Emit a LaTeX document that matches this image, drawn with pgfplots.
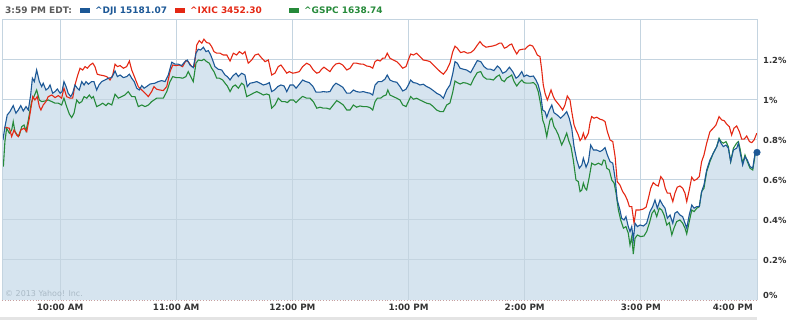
\documentclass[border=0pt]{standalone}
\usepackage{pgfplots}
\pgfplotsset{compat=1.18}
\usepackage{pgfplotstable}
\usepackage{fontspec}
\setmainfont{DejaVu Sans}
\definecolor{fillc}{RGB}{214,228,239}
\definecolor{gridc}{RGB}{196,212,224}
\definecolor{djiblue}{RGB}{28,88,150}
\definecolor{ixicred}{RGB}{228,40,20}
\definecolor{gspcgreen}{RGB}{38,138,58}
\definecolor{labelc}{RGB}{51,51,51}
\definecolor{graylab}{RGB}{90,90,90}
\definecolor{copyc}{RGB}{170,186,198}
\definecolor{bandc}{RGB}{228,228,228}
\definecolor{dotc}{RGB}{200,160,160}

\pgfplotstableread{
t v
0.5 0.80
1.4 0.86
2.7 0.925
4.1 0.942
5.8 0.972
7.2 0.934
8.4 0.95
9.7 0.972
11.0 0.945
12.4 0.967
13.6 0.95
14.8 1.025
15.7 1.109
16.7 1.092
17.9 1.15
19.3 1.092
20.5 1.067
21.3 1.084
22.7 1.05
23.9 1.059
24.8 1.075
26.2 1.034
27.4 1.042
28.6 1.055
30.0 1.034
31.0 1.042
32.0 1.092
33.1 1.067
34.2 1.034
35.5 1.017
36.5 1.034
37.7 1.075
38.9 1.059
39.9 1.05
41.2 1.092
42.4 1.075
43.4 1.092
44.6 1.079
46.3 1.092
47.5 1.092
48.9 1.05
50.1 1.075
51.5 1.092
53.2 1.10
54.9 1.109
56.7 1.112
58.4 1.145
59.6 1.117
61.0 1.125
62.7 1.112
64.4 1.117
65.8 1.129
67.0 1.109
68.3 1.092
69.6 1.059
70.9 1.05
72.2 1.072
73.4 1.059
74.7 1.067
76.5 1.08
79.0 1.084
80.7 1.092
82.5 1.097
84.2 1.092
85.9 1.125
87.7 1.189
89.4 1.179
91.1 1.179
92.8 1.172
94.5 1.192
95.7 1.20
97.1 1.175
98.8 1.162
100.2 1.234
101.4 1.254
102.6 1.25
104.0 1.264
105.4 1.242
106.6 1.247
107.8 1.225
108.8 1.20
110.0 1.167
111.7 1.154
113.5 1.15
115.2 1.125
116.4 1.117
117.8 1.10
119.2 1.12
120.9 1.134
122.1 1.117
123.8 1.134
125.5 1.125
126.7 1.067
128.1 1.084
129.8 1.087
131.6 1.092
133.3 1.084
135.0 1.075
136.7 1.08
138.1 1.087
139.3 1.042
140.7 1.05
142.4 1.067
144.1 1.075
145.7 1.07
147.1 1.042
148.8 1.075
150.5 1.075
151.9 1.059
153.6 1.079
155.3 1.10
157.0 1.092
158.7 1.087
160.5 1.07
162.2 1.039
164.3 1.039
166.0 1.042
167.7 1.04
169.4 1.042
171.1 1.07
172.5 1.084
174.2 1.075
176.0 1.064
178.1 1.034
179.8 1.034
181.5 1.05
183.2 1.042
184.9 1.039
186.6 1.042
188.4 1.037
190.1 1.034
191.5 1.025
192.7 1.075
194.4 1.092
196.1 1.092
197.8 1.104
199.0 1.125
200.4 1.10
202.1 1.092
203.9 1.089
205.6 1.067
207.0 1.045
208.7 1.054
209.9 1.075
211.1 1.10
212.5 1.087
214.2 1.084
215.9 1.075
217.6 1.079
219.4 1.067
221.1 1.059
222.8 1.047
224.5 1.034
226.3 1.025
228.0 1.009
229.7 1.05
231.4 1.075
232.8 1.13
234.0 1.192
235.2 1.184
236.6 1.159
238.3 1.154
240.0 1.15
242.1 1.137
243.8 1.167
245.5 1.197
247.3 1.192
249.0 1.167
250.7 1.154
252.4 1.154
254.1 1.147
255.9 1.17
257.2 1.159
258.6 1.134
260.3 1.142
262.1 1.164
263.8 1.142
265.5 1.109
266.7 1.117
268.5 1.142
269.6 1.117
271.0 1.125
272.7 1.117
274.5 1.12
275.8 1.10
277.0 1.075
278.3 1.025
279.3 0.95
280.5 0.942
281.4 0.914
282.7 0.95
284.0 0.975
285.1 0.937
286.8 0.925
288.6 0.909
290.3 0.925
291.7 0.942
293.0 0.909
294.3 0.859
295.5 0.767
296.9 0.70
298.2 0.659
299.5 0.675
300.3 0.709
301.7 0.664
302.9 0.692
304.1 0.775
305.5 0.75
307.2 0.75
308.9 0.742
310.3 0.75
311.5 0.762
312.7 0.725
314.1 0.692
315.5 0.684
316.7 0.609
317.8 0.50
319.2 0.45
320.1 0.409
321.3 0.40
322.3 0.417
323.5 0.367
324.4 0.342
325.3 0.367
326.1 0.30
327.0 0.384
328.2 0.367
329.6 0.375
331.3 0.37
333.0 0.384
334.7 0.442
336.1 0.467
337.3 0.50
338.5 0.459
339.9 0.50
341.3 0.475
342.5 0.459
343.7 0.409
345.1 0.425
346.5 0.384
347.6 0.434
348.8 0.442
350.2 0.425
351.6 0.417
352.8 0.384
353.7 0.359
355.0 0.425
356.3 0.475
357.5 0.459
358.9 0.467
360.2 0.467
361.4 0.542
362.6 0.575
364.0 0.65
365.7 0.70
367.4 0.734
369.2 0.767
370.4 0.804
371.4 0.784
372.6 0.767
374.0 0.775
375.2 0.759
376.4 0.692
377.8 0.75
379.5 0.759
380.4 0.784
381.2 0.742
382.6 0.675
383.8 0.717
385.0 0.70
386.4 0.667
387.8 0.659
389.0 0.734
390.0 0.738
}\dji

\pgfplotstableread{
t v
1.0 0.859
2.4 0.862
3.8 0.859
5.0 0.817
6.2 0.85
7.6 0.825
8.4 0.817
9.7 0.85
11.4 0.859
12.8 0.842
14.1 0.909
15.9 1.017
17.0 1.0
18.2 1.017
19.3 0.967
20.1 0.95
21.3 0.975
22.7 0.992
23.9 1.017
25.7 1.025
27.4 1.012
29.1 1.022
30.8 1.009
32.0 1.059
33.4 1.017
35.1 1.009
36.5 1.009
37.7 1.075
38.9 1.117
40.3 1.159
41.7 1.15
42.9 1.167
44.1 1.159
45.5 1.175
46.9 1.184
48.0 1.167
49.2 1.129
50.6 1.125
52.3 1.122
54.1 1.117
55.8 1.10
57.2 1.125
58.4 1.179
59.6 1.167
61.0 1.172
62.7 1.159
64.4 1.167
65.8 1.195
67.0 1.15
68.7 1.109
70.4 1.067
72.2 1.05
73.9 1.034
75.6 1.017
77.3 1.042
78.5 1.067
79.9 1.054
81.6 1.05
83.3 1.047
85.1 1.067
86.8 1.142
88.2 1.175
89.9 1.172
91.6 1.175
93.3 1.167
95.0 1.197
96.2 1.192
98.0 1.167
99.3 1.167
100.6 1.275
101.9 1.297
103.2 1.284
104.3 1.304
105.7 1.287
107.1 1.284
108.3 1.267
109.5 1.242
110.9 1.234
112.6 1.234
114.3 1.225
116.1 1.225
117.8 1.195
119.5 1.234
121.2 1.225
122.6 1.242
124.3 1.23
125.5 1.242
127.2 1.184
129.0 1.20
130.7 1.225
132.4 1.23
134.2 1.209
135.9 1.192
137.6 1.20
139.3 1.125
141.0 1.134
142.7 1.167
144.1 1.175
145.3 1.159
147.1 1.134
148.4 1.142
150.2 1.134
151.9 1.137
153.6 1.142
155.3 1.167
157.4 1.184
159.1 1.175
160.8 1.15
162.6 1.134
163.9 1.139
165.1 1.154
166.3 1.164
167.7 1.154
169.4 1.142
171.1 1.167
172.5 1.18
174.2 1.184
176.0 1.175
178.1 1.15
179.8 1.159
181.5 1.184
183.2 1.184
184.9 1.18
186.6 1.179
188.4 1.17
190.1 1.167
191.5 1.159
192.7 1.192
193.9 1.20
195.3 1.195
196.7 1.209
197.8 1.209
199.0 1.234
200.4 1.209
202.1 1.20
203.9 1.192
205.6 1.175
207.0 1.159
208.7 1.167
209.9 1.20
211.1 1.23
212.5 1.225
214.2 1.234
215.9 1.217
217.6 1.20
219.4 1.197
221.1 1.192
222.8 1.175
224.5 1.159
226.3 1.142
228.0 1.129
229.7 1.15
231.4 1.185
232.8 1.24
234.0 1.269
235.2 1.259
236.9 1.237
238.7 1.242
240.4 1.234
242.1 1.237
243.8 1.25
245.2 1.27
246.9 1.292
248.3 1.275
250.0 1.264
251.7 1.267
253.5 1.27
255.2 1.275
256.9 1.284
258.1 1.284
259.5 1.259
260.7 1.264
262.1 1.275
263.3 1.28
264.5 1.254
265.9 1.23
267.2 1.25
269.0 1.254
270.2 1.254
271.4 1.267
272.7 1.275
274.1 1.27
275.3 1.25
276.5 1.225
277.9 1.217
278.8 1.15
279.6 1.075
280.5 1.034
281.7 1.0
282.7 1.025
283.6 1.05
284.8 1.017
285.7 1.0
286.8 0.987
288.2 0.97
289.6 0.95
290.8 0.975
292.0 1.02
293.4 1.0
294.3 0.942
295.5 0.875
296.5 0.85
297.7 0.825
298.6 0.797
299.5 0.809
300.3 0.834
301.2 0.804
302.0 0.817
302.9 0.834
303.7 0.884
304.6 0.917
305.8 0.909
307.2 0.914
308.9 0.904
310.3 0.90
311.5 0.892
312.7 0.842
314.1 0.80
315.5 0.792
316.7 0.717
317.8 0.592
319.2 0.575
320.6 0.542
321.8 0.525
323.0 0.50
324.1 0.467
325.3 0.467
326.5 0.384
327.5 0.45
329.2 0.45
331.0 0.454
332.7 0.464
333.9 0.509
335.1 0.559
336.4 0.587
337.8 0.575
339.0 0.57
340.3 0.617
341.6 0.60
342.6 0.559
343.7 0.534
345.1 0.534
346.5 0.492
347.6 0.534
348.8 0.564
350.2 0.57
351.6 0.559
352.8 0.534
353.7 0.492
355.0 0.55
356.3 0.614
357.5 0.597
358.9 0.604
360.2 0.617
361.4 0.692
362.6 0.725
364.0 0.784
365.7 0.842
367.4 0.859
368.8 0.875
370.4 0.917
371.8 0.90
373.0 0.897
374.3 0.88
375.7 0.867
376.9 0.825
378.1 0.859
379.5 0.87
380.9 0.842
382.1 0.804
383.3 0.804
384.7 0.82
386.1 0.792
387.3 0.787
388.5 0.80
389.9 0.834
}\ixic

\pgfplotstableread{
t v
0.7 0.667
1.5 0.792
2.4 0.859
3.8 0.834
5.0 0.85
5.8 0.892
6.7 0.842
7.9 0.825
8.9 0.822
10.2 0.867
11.4 0.875
12.4 0.845
13.6 0.90
15.3 0.992
16.5 1.017
17.9 1.05
19.3 1.0
20.5 0.992
22.2 0.995
23.9 1.0
25.7 0.992
27.4 0.984
29.1 0.984
30.8 0.975
32.0 1.009
33.4 0.967
34.8 0.929
36.0 0.912
37.2 0.934
38.6 1.0
39.9 0.984
41.2 0.992
42.4 1.017
43.8 1.009
45.1 1.025
46.3 1.009
47.2 1.017
48.9 0.967
50.6 0.975
52.0 0.984
53.7 0.972
54.9 0.984
56.7 0.975
58.4 1.029
60.1 1.009
61.8 1.017
63.5 1.025
65.2 1.042
67.0 1.017
68.7 1.017
70.4 0.967
72.2 0.975
73.9 0.967
75.6 0.975
77.3 0.992
79.9 1.009
81.6 1.009
83.3 1.009
85.1 1.042
86.8 1.092
88.2 1.117
89.9 1.112
91.6 1.112
93.3 1.109
95.0 1.117
96.2 1.142
97.5 1.117
98.8 1.092
100.2 1.184
101.4 1.20
103.2 1.197
104.3 1.204
105.7 1.192
107.1 1.184
108.3 1.159
109.5 1.142
110.9 1.109
112.3 1.109
114.0 1.10
115.2 1.084
116.4 1.07
117.8 1.042
119.2 1.067
120.5 1.075
122.1 1.059
123.8 1.084
125.0 1.075
126.4 1.017
128.1 1.025
129.8 1.034
131.6 1.042
133.3 1.034
135.0 1.025
136.7 1.03
138.1 1.025
139.3 0.959
141.0 0.975
142.7 1.009
144.5 0.992
146.2 0.992
147.4 0.987
148.8 1.0
150.5 1.0
151.9 0.987
153.6 1.004
155.3 1.018
157.4 1.009
159.1 1.009
160.8 0.992
162.6 0.959
164.3 0.964
166.0 0.959
167.7 0.959
169.4 0.954
171.1 0.975
172.9 0.997
174.6 0.987
176.3 0.975
178.1 0.95
179.8 0.95
181.5 0.975
183.2 0.964
184.9 0.97
186.6 0.967
188.4 0.967
190.1 0.962
191.5 0.95
192.7 0.992
193.9 1.009
195.6 1.009
197.0 1.02
198.4 1.025
199.3 1.05
200.4 1.025
202.1 1.017
203.9 1.009
205.6 1.0
207.0 0.975
208.7 0.967
209.9 0.992
211.1 1.017
212.5 1.004
214.2 1.009
215.9 1.0
217.6 0.992
219.4 0.984
221.1 0.98
222.8 0.967
224.5 0.95
226.3 0.942
228.0 0.942
229.7 0.975
231.4 0.985
232.8 1.038
234.0 1.095
235.2 1.087
236.6 1.08
238.3 1.087
240.0 1.084
242.1 1.075
243.8 1.109
245.5 1.137
247.3 1.142
248.6 1.117
250.4 1.104
252.1 1.104
253.8 1.10
255.5 1.117
256.9 1.125
258.1 1.10
259.5 1.092
260.7 1.109
262.1 1.117
263.3 1.125
264.5 1.092
265.9 1.07
267.2 1.087
268.5 1.10
269.6 1.087
271.0 1.084
272.7 1.084
274.5 1.087
275.8 1.075
277.0 1.042
278.3 0.975
279.3 0.90
280.2 0.875
281.4 0.817
282.2 0.859
283.1 0.90
284.0 0.909
285.1 0.867
286.2 0.85
287.4 0.825
289.1 0.775
290.3 0.80
291.7 0.834
292.9 0.792
293.9 0.767
295.1 0.70
296.5 0.60
297.7 0.592
298.6 0.542
299.5 0.55
300.3 0.584
301.2 0.559
302.0 0.55
303.4 0.617
304.6 0.684
306.3 0.675
308.1 0.684
309.8 0.675
310.7 0.70
311.5 0.697
312.4 0.659
313.7 0.65
315.0 0.60
316.2 0.584
317.2 0.534
318.4 0.45
319.6 0.40
321.0 0.359
322.3 0.367
323.5 0.334
324.4 0.275
325.3 0.317
326.1 0.23
327.0 0.309
328.2 0.325
329.9 0.317
331.6 0.32
333.0 0.342
334.4 0.384
335.8 0.434
337.0 0.45
338.2 0.417
339.5 0.459
340.8 0.45
342.0 0.425
343.4 0.375
344.7 0.387
346.0 0.325
347.1 0.359
348.5 0.392
350.2 0.40
351.6 0.384
352.8 0.359
353.7 0.33
355.0 0.392
356.3 0.45
357.5 0.442
358.9 0.459
360.2 0.467
361.4 0.542
362.6 0.559
364.0 0.642
365.7 0.692
367.4 0.734
369.2 0.767
370.4 0.809
371.4 0.792
372.6 0.784
374.0 0.792
375.2 0.767
376.4 0.692
377.8 0.759
379.5 0.784
380.4 0.792
381.2 0.759
382.6 0.684
383.8 0.725
385.0 0.692
386.4 0.659
387.8 0.65
389.0 0.725
}\gspc

\begin{document}
\begin{tikzpicture}
\fill[bandc] (-2bp,-16.5bp) rectangle (755bp,-20bp);
\begin{axis}[
  at={(0,0)}, anchor=south west,
  scale only axis, width=755bp, height=280bp,
  xmin=0, xmax=390, ymin=0, ymax=1.4,
  set layers, clip=false,
  axis line style={draw=none},
  major tick length=0pt,
  xtick={30,90,150,210,270,330},
  xticklabels={10:00 AM,11:00 AM,12:00 PM,1:00 PM,2:00 PM,3:00 PM},
  extra x ticks={390}, extra x tick labels={4:00 PM},
  extra x tick style={grid=none, xticklabel style={anchor=north east, xshift=-4bp}},
  ytick={0.2,0.4,0.6,0.8,1.0,1.2},
  yticklabels={0.2\%,0.4\%,0.6\%,0.8\%,1\%,1.2\%},
  extra y ticks={0}, extra y tick labels={0\%},
  extra y tick style={grid=none, yticklabel style={yshift=5bp}},
  yticklabel pos=right,
  yticklabel style={anchor=west, inner sep=0pt, xshift=6bp, font=\fontsize{8.4}{10}\selectfont\bfseries},
  xticklabel style={anchor=north, inner sep=0pt, yshift=-4bp, font=\fontsize{8.8}{10}\selectfont\bfseries},
  ticklabel style={text=labelc},
  grid=major, major grid style={gridc, line width=1bp},
]
\addplot[draw=none, fill=fillc, on layer=axis background] table[x=t,y=v]{\dji} \closedcycle;
\addplot[gspcgreen, line width=1.1bp] table[x=t,y=v]{\gspc};
\addplot[ixicred, line width=1.1bp] table[x=t,y=v]{\ixic};
\addplot[djiblue, line width=1.1bp] table[x=t,y=v]{\dji};
\addplot[only marks, mark=*, mark size=3.3bp, djiblue] coordinates {(390,0.738)};
\draw[gridc, line width=1bp] (rel axis cs:0,0) -- (rel axis cs:0,1) -- (rel axis cs:1,1) -- (rel axis cs:1,0);
\draw[dotc, dotted, line width=0.8bp] (rel axis cs:0,0) -- (rel axis cs:1,0);
\end{axis}
\node[anchor=base west, inner sep=0pt, font=\fontsize{8}{9}\selectfont, text=copyc] at (3bp,3.5bp) {© 2013 Yahoo! Inc.};
\begin{scope}[every node/.style={anchor=base west, inner sep=0pt, font=\fontsize{9}{10}\selectfont\bfseries}]
\node[text=graylab] at (3bp,286bp) {3:59 PM EDT:};
\fill[djiblue] (78bp,287bp) rectangle (88bp,291.5bp);
\node[text=djiblue] at (93bp,286bp) {\textasciicircum DJI 15181.07};
\fill[ixicred] (173bp,287bp) rectangle (183bp,291.5bp);
\node[text=ixicred] at (188bp,286bp) {\textasciicircum IXIC 3452.30};
\fill[gspcgreen] (287bp,287bp) rectangle (297bp,291.5bp);
\node[text=gspcgreen] at (302bp,286bp) {\textasciicircum GSPC 1638.74};
\end{scope}
\path (-2bp,-20bp) rectangle (788bp,300bp);
\end{tikzpicture}
\end{document}
